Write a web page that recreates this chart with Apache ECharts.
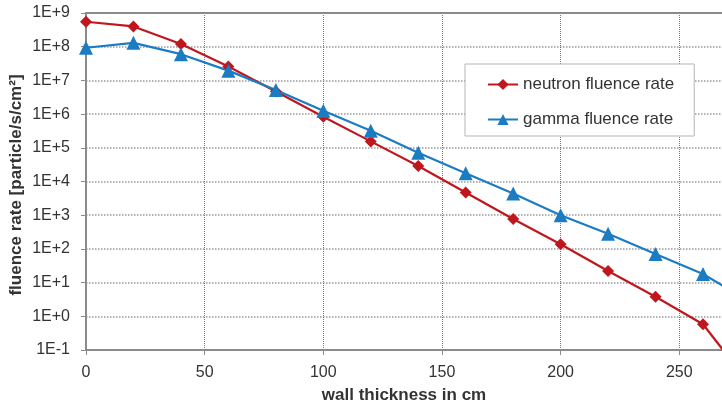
<!DOCTYPE html>
<html>
<head>
<meta charset="utf-8">
<script src="https://cdn.jsdelivr.net/npm/echarts@6/dist/echarts.min.js"></script>
<style>
html,body{margin:0;padding:0;background:#fff;}
#c{width:722px;height:403px;}
</style>
</head>
<body>
<div id="c"></div>
<script>
const thickness = [0, 20, 40, 60, 80, 100, 120, 140, 160, 180, 200, 220, 240, 260, 280];
const neutron = [5.5e8, 4.0e8, 1.2e8, 2.6e7, 4.7e6, 8.3e5, 1.55e5, 2.9e4, 4.7e3, 7.7e2, 1.37e2, 22, 3.8, 0.58, 0.009];
const gamma = [9.3e7, 1.3e8, 6.0e7, 1.95e7, 5.2e6, 1.25e6, 3.2e5, 7.1e4, 1.75e4, 4.4e3, 1.0e3, 2.8e2, 71, 18, 2.6];
const seriesNames = ['neutron fluence rate', 'gamma fluence rate'];
const xTitle = 'wall thickness in cm';
const yTitle = 'fluence rate [particle/s/cm²]';

const font = 'Arial, "Liberation Sans", sans-serif';
const chart = echarts.init(document.getElementById('c'), null, {renderer: 'canvas'});
const pairs = arr => thickness.map((x, i) => [x, arr[i]]);

chart.setOption({
  animation: false,
  backgroundColor: '#fff',
  grid: {left: 86, top: 13, right: 0, bottom: 53, containLabel: false, outerBoundsMode: 'none'},
  graphic: [{
    type: 'text', x: 16, y: 185, rotation: Math.PI / 2,
    style: {
      text: yTitle, fontFamily: font, fontSize: 17, fontWeight: 'bold', fill: '#333',
      textAlign: 'center', textVerticalAlign: 'middle', verticalAlign: 'middle'
    }
  }],
  legend: {
    orient: 'vertical',
    left: 465, top: 64,
    padding: [12, 20, 8, 22],
    itemGap: 18,
    itemWidth: 30, itemHeight: 14,
    borderColor: '#b5b5b5', borderWidth: 1,
    backgroundColor: '#fff',
    textStyle: {fontFamily: font, fontSize: 17, color: '#333'},
    data: seriesNames
  },
  xAxis: [{
    type: 'value', min: 0, max: 268, interval: 50,
    name: xTitle, nameLocation: 'middle', nameGap: 37,
    nameTextStyle: {fontFamily: font, fontSize: 17, fontWeight: 'bold', color: '#333'},
    axisLine: {lineStyle: {color: '#8a8a8a', width: 2}},
    axisTick: {show: true, length: 5, lineStyle: {color: '#8a8a8a'}},
    axisLabel: {fontFamily: font, fontSize: 16, color: '#333', margin: 15, showMaxLabel: false},
    splitLine: {show: true, lineStyle: {type: 'dotted', color: '#777', width: 1}}
  }, {
    type: 'value', position: 'top', min: 0, max: 268,
    axisLine: {show: true, lineStyle: {color: '#8a8a8a', width: 2}},
    axisTick: {show: false}, axisLabel: {show: false}, splitLine: {show: false}
  }],
  yAxis: {
    type: 'log', logBase: 10, min: 0.1, max: 1e9, interval: 1,
    axisLine: {show: true, lineStyle: {color: '#8a8a8a', width: 2}},
    axisTick: {show: true, length: 5, lineStyle: {color: '#8a8a8a'}},
    axisLabel: {
      fontFamily: font, fontSize: 16, color: '#333', margin: 16,
      formatter: v => { const e = Math.round(Math.log10(v)); return '1E' + (e >= 0 ? '+' : '') + e; }
    },
    splitLine: {show: true, lineStyle: {type: 'dotted', color: '#999', width: 1.5}}
  },
  series: [{
    name: seriesNames[0], type: 'line', data: pairs(neutron),
    symbol: 'diamond', symbolSize: 12, clip: true,
    itemStyle: {color: '#c0171f'},
    lineStyle: {color: '#c0171f', width: 2.2}
  }, {
    name: seriesNames[1], type: 'line', data: pairs(gamma),
    symbol: 'triangle', symbolSize: 14, clip: true,
    itemStyle: {color: '#1b7cc3'},
    lineStyle: {color: '#1b7cc3', width: 2.2}
  }]
});
</script>
</body>
</html>
